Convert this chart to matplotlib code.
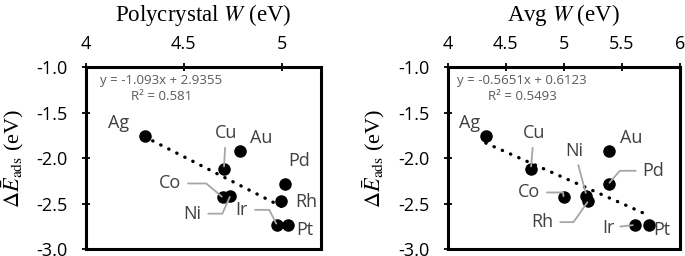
import matplotlib
matplotlib.use('Agg')
import matplotlib.pyplot as plt
import numpy as np

# data
metals = ['Ag', 'Cu', 'Au', 'Pd', 'Rh', 'Co', 'Ni', 'Ir', 'Pt']
dE_ads = [-1.76, -2.12, -1.92, -2.28, -2.47, -2.43, -2.41, -2.73, -2.73]
W_poly = [4.30, 4.705, 4.785, 5.017, 4.997, 4.70, 4.738, 4.976, 5.035]
W_avg = [4.328, 4.716, 5.388, 5.385, 5.21, 5.0, 5.195, 5.617, 5.733]

fit_poly = (-1.093, 2.9355, 0.581)
fit_avg = (-0.5651, 0.6123, 0.5493)

xticks_poly = [4, 4.5, 5]
xticks_avg = [4, 4.5, 5, 5.5, 6]
yticks = [-1.0, -1.5, -2.0, -2.5, -3.0]

# label offsets in pixels (dx, dy) and leader line connection style (None = no line)
lab_poly = {'Ag': ((-26, 13), None), 'Cu': ((2, 36), 'straight'), 'Au': ((22, 13), None),
            'Pd': ((14, 23), None), 'Rh': ((25, -1), None), 'Co': ((-53, 14), -40),
            'Ni': ((-38, -18), 66), 'Ir': ((-35, 15), -63), 'Pt': ((16, -5), None)}
lab_avg = {'Ag': ((-16, 13), None), 'Cu': ((3, 36), 'straight'), 'Au': ((22, 13), None),
           'Pd': ((45, 13), 49), 'Rh': ((-46, -21), 55), 'Co': ((-35, 5), -80),
           'Ni': ((-12, 45), 'straight'), 'Ir': ((-27, -3), 'straight'), 'Pt': ((13, -5), None)}

lab_col = '#404040'
lead_col = '#a6a6a6'
sans = ['Open Sans', 'DejaVu Sans']
plt.rcParams['mathtext.fontset'] = 'stix'

fig = plt.figure(figsize=(6.85, 2.56), dpi=100)
ax1 = fig.add_axes([0.1255, 0.0254, 0.3427, 0.7129])
ax2 = fig.add_axes([0.6536, 0.0254, 0.339, 0.7129])


def panel(ax, W, fit, xticks, xlim, title, labels):
    for axis in ['top', 'bottom', 'left', 'right']:
        ax.spines[axis].set_linewidth(2.2)
    ax.xaxis.tick_top()
    ax.xaxis.set_label_position('top')
    ax.tick_params(axis='x', direction='inout', length=6, width=1.3, pad=7, labelsize=13)
    ax.tick_params(axis='y', direction='inout', length=6, width=1.3, pad=10, labelsize=13)
    ax.set_xlim(*xlim)
    ax.set_ylim(-3.0, -1.0)
    ax.set_xticks(xticks)
    ax.set_xticklabels([('%g' % t) for t in xticks], family=sans)
    ax.set_yticks(yticks)
    ax.set_yticklabels(['%.1f' % t for t in yticks], family=sans)

    # trendline
    xs = np.array([min(W), max(W)])
    ax.plot(xs, fit[0] * xs + fit[1], color='black', lw=2.4,
            linestyle=(0, (0.1, 2.6)), dash_capstyle='round', zorder=2)
    ax.plot(W, dE_ads, 'o', color='black', ms=8, zorder=3)
    ax.text(0.32, 0.88, 'y = %gx + %g\nR² = %g' % (fit[0], fit[1], fit[2]),
            transform=ax.transAxes, ha='center', va='center', multialignment='center',
            fontsize=9.5, color='#595959', family=sans, linespacing=1.3)

    for m, x, y in zip(metals, W, dE_ads):
        (dx, dy), conn = labels[m]
        kw = dict(xytext=(dx, dy), textcoords='offset pixels', ha='center', va='center',
                  fontsize=13, color=lab_col, family=sans)
        if conn == 'straight':
            kw['arrowprops'] = dict(arrowstyle='-', color=lead_col, lw=1.3, shrinkA=2, shrinkB=2)
        elif conn is not None:
            rel = (1, 0.5) if dx < 0 else (0, 0.5)
            kw['arrowprops'] = dict(arrowstyle='-', color=lead_col, lw=1.3,
                                    shrinkA=3, shrinkB=1, relpos=rel,
                                    connectionstyle='angle,angleA=0,angleB=%g,rad=0' % conn)
        ax.annotate(m, (x, y), **kw)

    ax.set_xlabel(title, fontsize=16.5, family='Liberation Serif', labelpad=10)
    ax.set_ylabel(r'$\Delta\bar{E}_{\mathrm{ads}}$ (eV)', fontsize=16,
                  family='Liberation Serif', labelpad=8)


panel(ax1, W_poly, fit_poly, xticks_poly, (4, 5.2), r'Polycrystal $W$ (eV)', lab_poly)
panel(ax2, W_avg, fit_avg, xticks_avg, (4, 6), r'Avg $W$ (eV)', lab_avg)

plt.savefig('out.png', dpi=100)
